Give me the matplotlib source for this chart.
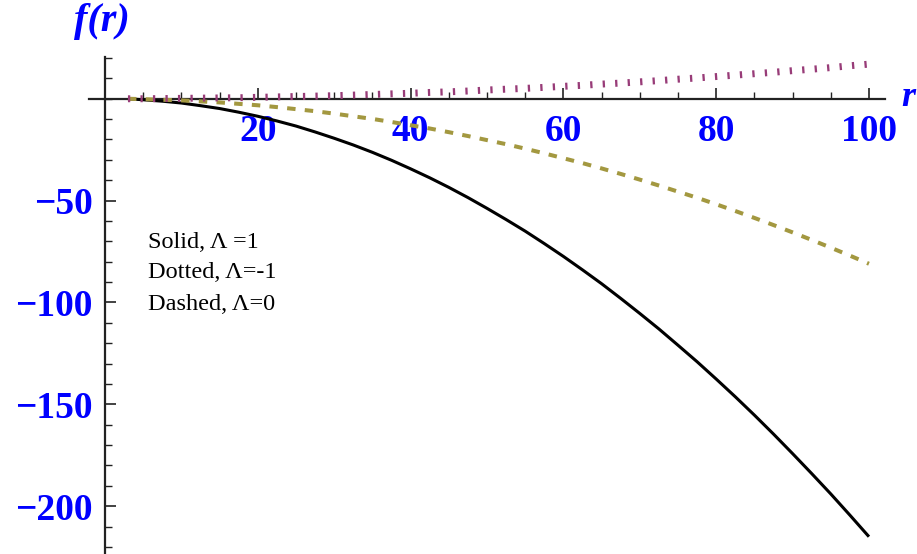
import numpy as np
import matplotlib
matplotlib.use("Agg")
import matplotlib.pyplot as plt

# ---- data ----
r = [3, 5, 7.5, 10, 12.5, 15, 17.5, 20, 22.5, 25, 27.5, 30, 32.5, 35, 37.5, 40,
     42.5, 45, 47.5, 50, 52.5, 55, 57.5, 60, 62.5, 65, 67.5, 70, 72.5, 75, 77.5,
     80, 82.5, 85, 87.5, 90, 92.5, 95, 97.5, 100]
f_solid = [0.0, -0.5, -1.2, -2.1, -3.4, -4.8, -6.6, -8.6, -10.9, -13.4, -16.3,
           -19.4, -22.7, -26.3, -30.2, -34.4, -38.8, -43.5, -48.5, -53.8, -59.3,
           -65.0, -71.1, -77.4, -84.0, -90.8, -98.0, -105.4, -113.0, -121.0, -129.1,
           -137.6, -146.3, -155.3, -164.6, -174.2, -184.0, -194.0, -204.4, -215.0]
f_dashed = [0.0, -0.2, -0.5, -0.8, -1.3, -1.8, -2.5, -3.2, -4.1, -5.1, -6.1,
            -7.3, -8.6, -9.9, -11.4, -13.0, -14.6, -16.4, -18.3, -20.3, -22.3,
            -24.5, -26.8, -29.2, -31.6, -34.2, -36.9, -39.7, -42.6, -45.6, -48.6,
            -51.8, -55.1, -58.5, -62.0, -65.6, -69.3, -73.1, -77.0, -81.0]
f_dotted = [0.0, 0.0, 0.1, 0.2, 0.3, 0.4, 0.5, 0.7, 0.9, 1.1, 1.3,
            1.5, 1.8, 2.1, 2.4, 2.7, 3.1, 3.4, 3.8, 4.3, 4.7,
            5.1, 5.6, 6.1, 6.6, 7.2, 7.7, 8.3, 8.9, 9.6, 10.2,
            10.9, 11.6, 12.3, 13.0, 13.8, 14.5, 15.3, 16.2, 17.0]
xticks_major = [20, 40, 60, 80, 100]
xtick_labels = ["20", "40", "60", "80", "100"]
yticks_major = [-50, -100, -150, -200]
ytick_labels = ["\u221250", "\u2212100", "\u2212150", "\u2212200"]
legend_lines = ["Solid, \u039b =1", "Dotted, \u039b=-1", "Dashed, \u039b=0"]

W, H = 917, 554
fig = plt.figure(figsize=(W / 100, H / 100), dpi=100)
ax = fig.add_axes([89 / W, 0.0, (885 - 89) / W, 1 - 57 / H])
ax.set_xlim(-2.1, 102.1)
ax.set_ylim(-223.5, 20.5)

ax.plot(r, f_solid, color="black", lw=2.2, solid_capstyle="butt",
        solid_joinstyle="round", zorder=3)
ax.plot(r, f_dashed, color="#A39840", lw=2.9, dashes=(2.1, 2.3),
        dash_capstyle="butt", zorder=3)
ax.plot(r, f_dotted, color="#983C78", lw=5.0, dashes=(0.33, 1.47),
        dash_capstyle="butt", zorder=3)

for s in ["top", "right"]:
    ax.spines[s].set_visible(False)
ax.spines["left"].set_position(("data", 0))
ax.spines["bottom"].set_position(("data", 0))
for s in ["left", "bottom"]:
    ax.spines[s].set_linewidth(1.6)
    ax.spines[s].set_color("#222222")
ax.patch.set_visible(False)

tfont = {"family": "Liberation Serif", "weight": "bold", "size": 27, "color": "blue"}
ax.set_xticks(xticks_major)
ax.set_xticklabels(xtick_labels, fontdict=tfont)
ax.set_yticks(yticks_major)
ax.set_yticklabels(ytick_labels, fontdict=tfont)
ax.set_xticks(np.arange(5, 101, 5), minor=True)
ax.set_yticks(np.arange(-220, 21, 10), minor=True)
ax.tick_params(which="major", direction="in", length=8, width=1.2, color="#222222")
ax.tick_params(which="minor", direction="in", length=5, width=1.0, color="#222222")
ax.tick_params(axis="x", which="major", pad=11)
ax.tick_params(axis="y", which="major", pad=9)

# axis labels
fig.text(102 / W, 1 - 22 / H, "f(r)", ha="center", va="center",
         family="Liberation Serif", weight="bold", style="italic", size=29, color="blue")
fig.text(908 / W, 1 - 97 / H, "r", ha="center", va="center",
         family="Liberation Serif", weight="bold", style="italic", size=26, color="blue")

# legend text
for i, t in enumerate(legend_lines):
    fig.text(148 / W, 1 - (242 + 31 * i) / H, t, ha="left", va="center",
             family="Liberation Serif", size=17.5, color="black")

fig.savefig("out.png", dpi=100)
